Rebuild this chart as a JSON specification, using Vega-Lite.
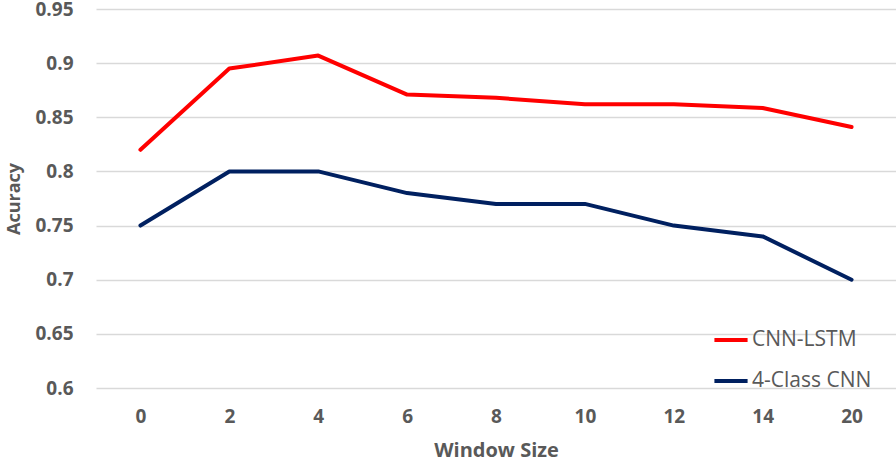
{
  "$schema": "https://vega.github.io/schema/vega-lite/v6.json",
  "width": 800,
  "height": 379,
  "autosize": {"type": "none"},
  "padding": {"left": 96, "top": 9, "right": 0, "bottom": 75},
  "background": "white",
  "config": {
    "view": {"stroke": null},
    "font": "Open Sans"
  },
  "data": {
    "values": [
      {"window": "0", "model": "CNN-LSTM", "acc": 0.82},
      {"window": "2", "model": "CNN-LSTM", "acc": 0.895},
      {"window": "4", "model": "CNN-LSTM", "acc": 0.907},
      {"window": "6", "model": "CNN-LSTM", "acc": 0.871},
      {"window": "8", "model": "CNN-LSTM", "acc": 0.868},
      {"window": "10", "model": "CNN-LSTM", "acc": 0.862},
      {"window": "12", "model": "CNN-LSTM", "acc": 0.862},
      {"window": "14", "model": "CNN-LSTM", "acc": 0.8585},
      {"window": "20", "model": "CNN-LSTM", "acc": 0.841},
      {"window": "0", "model": "4-Class CNN", "acc": 0.75},
      {"window": "2", "model": "4-Class CNN", "acc": 0.80},
      {"window": "4", "model": "4-Class CNN", "acc": 0.80},
      {"window": "6", "model": "4-Class CNN", "acc": 0.78},
      {"window": "8", "model": "4-Class CNN", "acc": 0.77},
      {"window": "10", "model": "4-Class CNN", "acc": 0.77},
      {"window": "12", "model": "4-Class CNN", "acc": 0.75},
      {"window": "14", "model": "4-Class CNN", "acc": 0.74},
      {"window": "20", "model": "4-Class CNN", "acc": 0.70}
    ]
  },
  "mark": {"type": "line", "strokeWidth": 4, "strokeCap": "round", "strokeJoin": "round"},
  "encoding": {
    "x": {
      "field": "window",
      "type": "ordinal",
      "sort": ["0", "2", "4", "6", "8", "10", "12", "14", "20"],
      "scale": {"type": "point", "padding": 0.5},
      "axis": {
        "title": "Window Size",
        "titleFont": "Open Sans",
        "titleFontSize": 20,
        "titleFontWeight": "bold",
        "titleColor": "#595959",
        "titlePadding": 14,
        "labelAngle": 0,
        "labelFontSize": 19,
        "labelFontWeight": "bold",
        "labelColor": "#595959",
        "labelPadding": 19,
        "ticks": false,
        "domain": false,
        "grid": false
      }
    },
    "y": {
      "field": "acc",
      "type": "quantitative",
      "scale": {"domain": [0.6, 0.95], "zero": false, "nice": false},
      "axis": {
        "title": "Acuracy",
        "titleFontSize": 18,
        "titleFontWeight": "bold",
        "titleColor": "#595959",
        "titlePadding": 11,
        "values": [0.6, 0.65, 0.7, 0.75, 0.8, 0.85, 0.9, 0.95],
        "format": ".2~f",
        "labelFontSize": 19,
        "labelFontWeight": "bold",
        "labelColor": "#595959",
        "labelPadding": 23,
        "ticks": false,
        "domain": false,
        "grid": true,
        "gridColor": "#D9D9D9",
        "gridWidth": 1.5
      }
    },
    "color": {
      "field": "model",
      "type": "nominal",
      "scale": {"domain": ["CNN-LSTM", "4-Class CNN"], "range": ["#FF0000", "#002060"]},
      "legend": {
        "title": null,
        "orient": "none",
        "legendX": 616,
        "legendY": 312,
        "symbolType": "stroke",
        "symbolStrokeWidth": 4,
        "symbolSize": 1100,
        "labelFontSize": 21,
        "labelColor": "#595959",
        "labelOffset": 2,
        "rowPadding": 12,
        "labelFontWeight": "normal"
      }
    }
  }
}
